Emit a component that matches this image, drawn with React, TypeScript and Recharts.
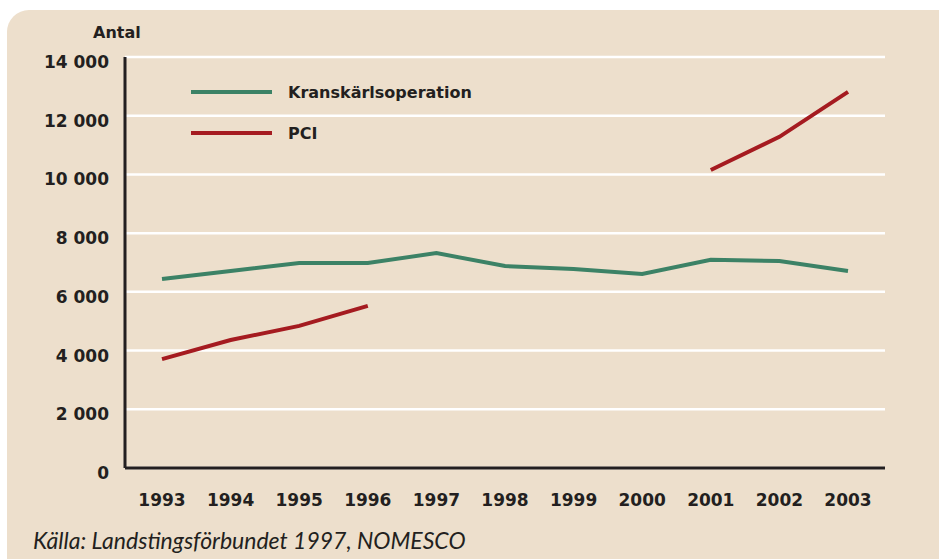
import React from "react";
import { LineChart, Line, XAxis, YAxis, CartesianGrid } from "recharts";

const years = ["1993", "1994", "1995", "1996", "1997", "1998", "1999", "2000", "2001", "2002", "2003"];
const kransValues = [6440, 6710, 6980, 6980, 7320, 6880, 6780, 6610, 7090, 7050, 6710];
const pciValues: (number | null)[] = [3710, 4360, 4840, 5520, null, null, null, null, 10150, 11280, 12810];
const yTicks = [0, 2000, 4000, 6000, 8000, 10000, 12000, 14000];
const seriesNames = ["Kranskärlsoperation", "PCI"];

const data = years.map((y, i) => ({ year: y, krans: kransValues[i], pci: pciValues[i] }));

const TEXT = "#231f20";
const GREEN = "#3c8266";
const RED = "#a51b20";
const BG = "#eddfcc";
const FONT = "'DejaVu Sans', sans-serif";

const fmt = (v: number) => (v >= 1000 ? `${Math.floor(v / 1000)} ${String(v % 1000).padStart(3, "0")}` : String(v));

const YTick = (props: any) => {
  const { x, y, payload } = props;
  return (
    <text x={x} y={y} dy={11} textAnchor="end" fill={TEXT} fontFamily={FONT} fontWeight="bold" fontSize={17}>
      {fmt(payload.value)}
    </text>
  );
};

const XTick = (props: any) => {
  const { x, y, payload } = props;
  return (
    <text x={x} y={y} dy={30} textAnchor="middle" fill={TEXT} fontFamily={FONT} fontWeight="bold" fontSize={17}>
      {payload.value}
    </text>
  );
};

export default function App() {
  return (
    <div style={{ position: "absolute", left: 0, top: 0, width: 939, height: 559, background: "#ffffff", overflow: "hidden" }}>
      <div style={{ position: "absolute", left: 7, top: 10, width: 940, height: 560, background: BG, borderTopLeftRadius: 22 }} />
      <div style={{ position: "absolute", left: 93, top: 23, fontFamily: FONT, fontWeight: "bold", fontSize: 16, color: TEXT }}>Antal</div>
      <div style={{ position: "absolute", left: 33, top: 526, fontFamily: "Lato, sans-serif", fontStyle: "italic", fontSize: 23, color: TEXT, whiteSpace: "nowrap" }}>
        Källa: Landstingsförbundet 1997, NOMESCO
      </div>
      <div style={{ position: "absolute", left: 0, top: 0 }}>
        <LineChart width={939} height={559} data={data} margin={{ top: 57, right: 54, bottom: 51, left: 0 }}>
          <CartesianGrid vertical={false} stroke="#ffffff" strokeWidth={2.5} />
          <XAxis
            dataKey="year"
            height={40}
            padding={{ left: 37, right: 37 }}
            axisLine={{ stroke: TEXT, strokeWidth: 3 }}
            tickLine={false}
            tick={<XTick />}
            interval={0}
          />
          <YAxis
            width={125}
            domain={[0, 14000]}
            ticks={yTicks}
            axisLine={{ stroke: TEXT, strokeWidth: 3 }}
            tickLine={false}
            tickMargin={10}
            tick={<YTick />}
            interval={0}
          />
          <Line dataKey="krans" name={seriesNames[0]} stroke={GREEN} strokeWidth={4} dot={false} activeDot={false} isAnimationActive={false} />
          <Line dataKey="pci" name={seriesNames[1]} stroke={RED} strokeWidth={4} dot={false} activeDot={false} connectNulls={false} isAnimationActive={false} />
        </LineChart>
      </div>
      <svg style={{ position: "absolute", left: 190, top: 80 }} width={320} height={70}>
        <line x1={1} x2={82} y1={12} y2={12} stroke={GREEN} strokeWidth={4} />
        <text x={98} y={18} fill={TEXT} fontFamily={FONT} fontWeight="bold" fontSize={16}>{seriesNames[0]}</text>
        <line x1={1} x2={82} y1={53} y2={53} stroke={RED} strokeWidth={4} />
        <text x={98} y={59} fill={TEXT} fontFamily={FONT} fontWeight="bold" fontSize={16}>{seriesNames[1]}</text>
      </svg>
    </div>
  );
}
